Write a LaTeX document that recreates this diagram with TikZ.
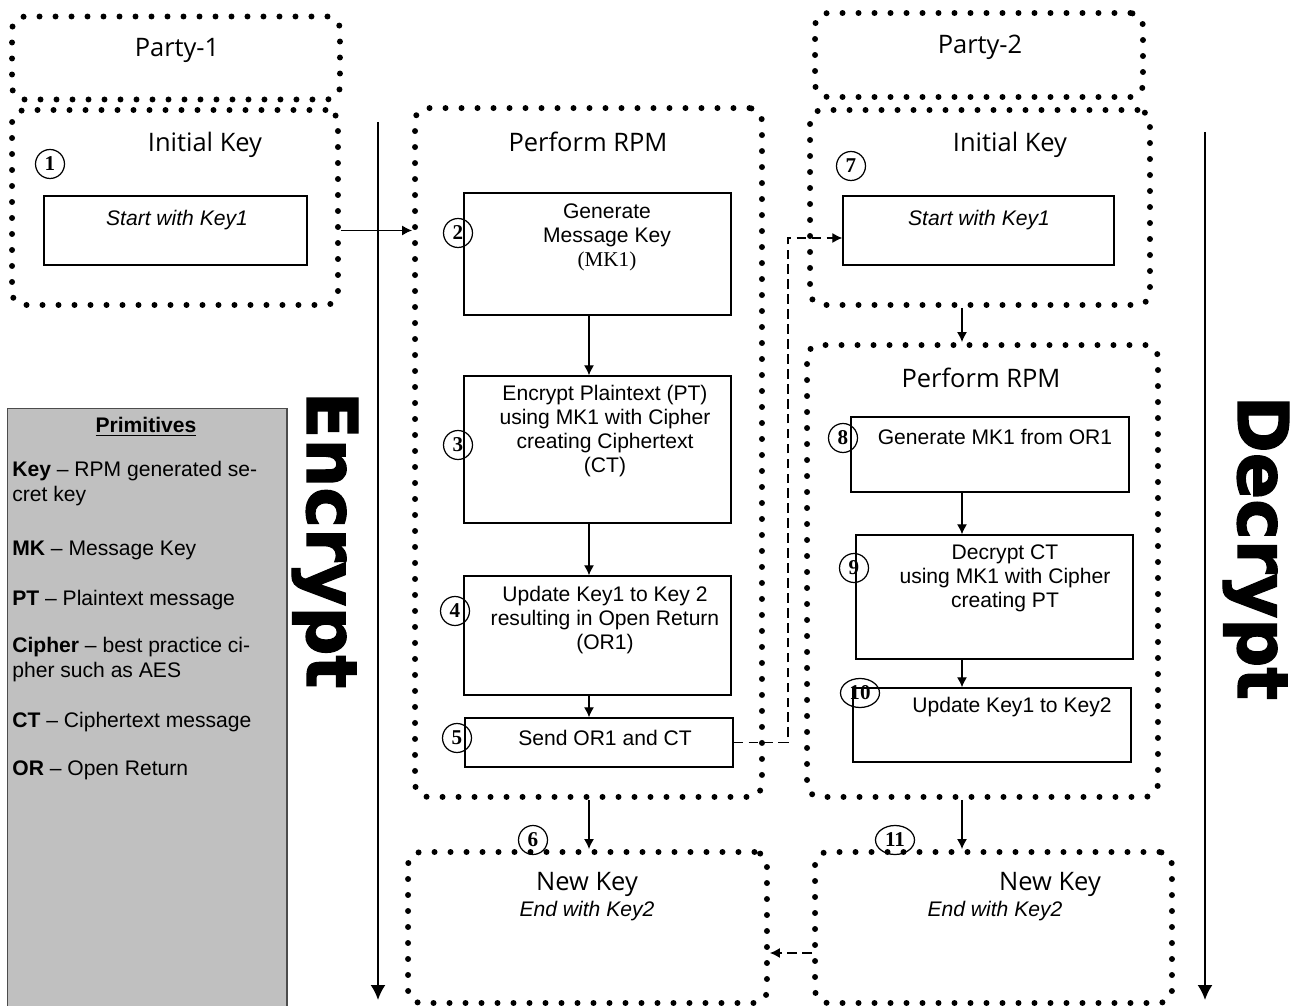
\documentclass[tikz,border=0pt]{standalone}
\usepackage{fontspec}
\setmainfont{Liberation Sans}
\newfontfamily\headfont{Open Sans}
\newfontfamily\numfont{Liberation Serif}
\newfontfamily\bigfont[BoldFeatures={FakeBold=2}]{DejaVu Sans}
\usetikzlibrary{arrows.meta,positioning,shapes.geometric}
\definecolor{primgray}{RGB}{192,192,192}

\begin{document}
\begin{tikzpicture}[% 1 unit = 1 pixel of the sketch, y runs downwards
			x=0.02cm,y=-0.02cm,
			every node/.style={
				align=center,		% so that "\\" breaks lines
				inner sep=0pt
			},
			dotbox/.style={draw,line width=3.4pt,dash pattern=on 0pt off 0.32cm,line cap=round,rounded corners=0.25cm},
			stepbox/.style={draw,line width=0.8pt},
			num/.style={circle,draw,line width=0.7pt,minimum size=0.58cm,font=\numfont\bfseries\fontsize{12}{12}\selectfont},
			numwide/.style={ellipse,draw,line width=0.7pt,minimum width=0.78cm,minimum height=0.58cm,font=\numfont\bfseries\fontsize{12}{12}\selectfont},
			head/.style={font=\headfont\fontsize{14.5}{17}\selectfont},
			body/.style={font=\fontsize{12}{13.7}\selectfont},
			ital/.style={font=\itshape\fontsize{12}{13.7}\selectfont},
			flow/.style={-{Latex[length=2mm,width=2mm]},line width=0.7pt},
			relay/.style={-{Latex[length=2mm,width=2mm]},line width=0.7pt,dash pattern=on 5.5pt off 3pt},
			side/.style={-{Latex[length=3mm,width=3mm]},line width=1.1pt},
			sideword/.style={rotate=-90,font=\bigfont\bfseries\fontsize{39}{39}\selectfont}
		]
		\useasboundingbox (0,0) rectangle (1292,1006);

		% Party-1
		\node[dotbox,minimum width=6.56cm,minimum height=1.66cm](party1) at (176,58){};
		\node[head](party1txt) at (177,50){Party-1};
		\node[dotbox,minimum width=6.52cm,minimum height=3.9cm](init1) at (175,207.5){};
		\node[head](init1txt) at (205,145){Initial Key};
		\node[num](n1) at (50,164){1};
		\node[stepbox,minimum width=5.26cm,minimum height=1.38cm](start1) at (175.5,230.5){};
		\node[ital](start1txt) at (177,220){Start with Key1};

		% Perform RPM, sender side
		\node[dotbox,minimum width=6.94cm,minimum height=13.78cm](rpm1) at (588.5,452.5){};
		\node[head](rpm1txt) at (588,142){Perform RPM};
		\node[stepbox,minimum width=5.34cm,minimum height=2.44cm](gen) at (597.5,254){};
		\node[body](gentxt) at (607,237){Generate\\Message Key\\{\numfont (MK1)}};
		\node[num](n2) at (458,233){2};
		\node[stepbox,minimum width=5.34cm,minimum height=2.94cm](enc) at (597.5,449.5){};
		\node[body](enctxt) at (605,431){Encrypt Plaintext (PT)\\using MK1 with Cipher\\creating Ciphertext\\(CT)};
		\node[num](n3) at (458,445){3};
		\node[stepbox,minimum width=5.34cm,minimum height=2.38cm](upd) at (597.5,635.5){};
		\node[body](updtxt) at (605,620){Update Key1 to Key 2\\resulting in Open Return\\(OR1)};
		\node[num](n4) at (455,611){4};
		\node[stepbox,minimum width=5.36cm,minimum height=0.98cm](send) at (599,742.5){};
		\node[body](sendtxt) at (605,738){Send OR1 and CT};
		\node[num](n5) at (457,738){5};

		% New Key, sender side
		\node[dotbox,minimum width=7.18cm,minimum height=3.02cm](newkey1) at (587.5,927.5){};
		\node[head](newkey1txt) at (587,884){New Key};
		\node[ital](end1txt) at (587,911){End with Key2};
		\node[num](n6) at (533,840){6};

		% Party-2
		\node[dotbox,minimum width=6.56cm,minimum height=1.68cm](party2) at (979,55){};
		\node[head](party2txt) at (980,47){Party-2};
		\node[dotbox,minimum width=6.8cm,minimum height=3.9cm](init2) at (980,207.5){};
		\node[head](init2txt) at (1010,145){Initial Key};
		\node[num](n7) at (851,166){7};
		\node[stepbox,minimum width=5.42cm,minimum height=1.38cm](start2) at (978.5,230.5){};
		\node[ital](start2txt) at (979,220){Start with Key1};

		% Perform RPM, receiver side
		\node[dotbox,minimum width=7.02cm,minimum height=9.04cm](rpm2) at (982.5,571){};
		\node[head](rpm2txt) at (981,378){Perform RPM};
		\node[stepbox,minimum width=5.56cm,minimum height=1.5cm](mk) at (990,454.5){};
		\node[body](mktxt) at (995,437){Generate MK1 from OR1};
		\node[num](n8) at (843,438){8};
		\node[stepbox,minimum width=5.54cm,minimum height=2.48cm](dec) at (994.5,597){};
		\node[body](dectxt) at (1005,578){Decrypt CT\\using MK1 with Cipher\\creating PT};
		\node[num](n9) at (854,568){9};
		\node[stepbox,minimum width=5.56cm,minimum height=1.48cm](upd2) at (992,725){};
		\node[body](upd2txt) at (1012,707){Update Key1 to Key2};
		\node[numwide](n10) at (860,693){10};

		% New Key, receiver side
		\node[dotbox,minimum width=7.14cm,minimum height=3.02cm](newkey2) at (993.5,927.5){};
		\node[head](newkey2txt) at (1050,884){New Key};
		\node[ital](end2txt) at (995,911){End with Key2};
		\node[numwide](n11) at (895,840){11};

		% Primitives
		\node[draw=black!70,fill=primgray,line width=0.6pt,minimum width=5.6cm,minimum height=12.1cm](prim) at (147,711){};
		\node[font=\bfseries\fontsize{12}{14}\selectfont](primtxt) at (146,427){\underline{Primitives}};
		\node[align=left,anchor=north west,font=\fontsize{12}{14.2}\selectfont](primlist) at (12,461){%
			\textbf{Key} – RPM generated se-\\cret key\\[0.58cm]
			\textbf{MK} – Message Key\\[0.5cm]
			\textbf{PT} – Plaintext message\\[0.45cm]
			\textbf{Cipher} – best practice ci-\\pher such as AES\\[0.5cm]
			\textbf{CT} – Ciphertext message\\[0.46cm]
			\textbf{OR} – Open Return};

		% side arrows
		\coordinate (enctop) at (378,122);
		\coordinate (encbot) at (378,1000);
		\coordinate (dectop) at (1205,132);
		\coordinate (decbot) at (1205,1000);
		\node[sideword](encword) at (325,540){\scalebox{1}[1.02]{Encrypt}};
		\node[sideword](decword) at (1256,548){\scalebox{1}[1.02]{Decrypt}};
		\draw[side] (enctop) -- (encbot);
		\draw[side] (dectop) -- (decbot);

		% connectors
		\coordinate (col1) at (589,0);
		\coordinate (col2) at (962,0);
		\coordinate (hop) at (788,238);
		\coordinate (back) at (0,953);
		\draw[flow] (start1.east -| init1.east) -- (start1.east -| rpm1.west);
		\draw[flow] (col1 |- gen.south) -- (col1 |- enc.north);
		\draw[flow] (col1 |- enc.south) -- (col1 |- upd.north);
		\draw[flow] (col1 |- upd.south) -- (col1 |- send.north);
		\draw[flow] (col1 |- rpm1.south) -- (col1 |- newkey1.north);
		\draw[relay] (send.east) -| (hop) -- (hop -| start2.west);
		\draw[flow] (col2 |- init2.south) -- (col2 |- rpm2.north);
		\draw[flow] (col2 |- mk.south) -- (col2 |- dec.north);
		\draw[flow] (col2 |- dec.south) -- (col2 |- upd2.north);
		\draw[flow] (col2 |- rpm2.south) -- (col2 |- newkey2.north);
		\draw[relay] (back -| newkey2.west) -- (back -| newkey1.east);
	\end{tikzpicture}
\end{document}
